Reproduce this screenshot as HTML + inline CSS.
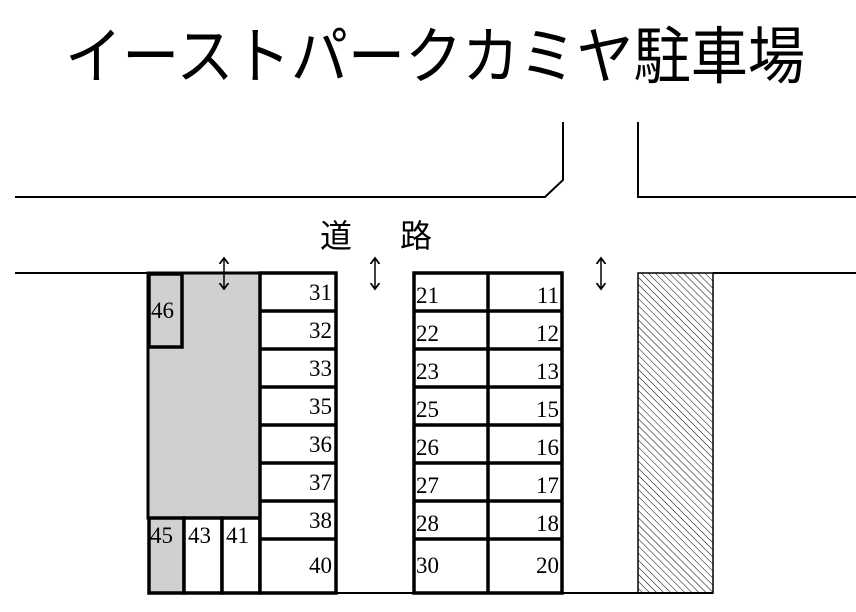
<!DOCTYPE html><html><head><meta charset="utf-8"><style>body{margin:0;background:#fff}</style></head><body>
<svg width="856" height="612" xmlns="http://www.w3.org/2000/svg" style="display:block">
<defs><pattern id="h" width="5" height="5" patternUnits="userSpaceOnUse" patternTransform="rotate(-45)"><line x1="0" y1="0" x2="0" y2="5" stroke="#000" stroke-width="1"/></pattern>
<marker id="a" markerWidth="8" markerHeight="8" refX="4" refY="4" orient="auto-start-reverse"><path d="M0,1 L4,4 L0,7" fill="none" stroke="#000" stroke-width="1.2"/></marker></defs>
<text x="435" y="78" text-anchor="middle" font-family="Liberation Sans,'Noto Sans CJK JP',sans-serif" font-size="62" textLength="740" lengthAdjust="spacingAndGlyphs">イーストパークカミヤ駐車場</text>
<text x="320" y="247" font-family="'Noto Sans CJK JP',sans-serif" font-size="32">道</text>
<text x="400" y="247" font-family="'Noto Sans CJK JP',sans-serif" font-size="32">路</text>
<g fill="none" stroke="#000" stroke-width="2">
<path d="M15,197 H545 L563,180 V122"/><path d="M638,122 V197 H856"/>
<path d="M15,273 H148"/><path d="M713,273 H856"/><path d="M148,593 H713"/>
</g>
<rect x="638" y="273" width="75" height="320" fill="url(#h)" stroke="#000" stroke-width="1.5"/>
<rect x="148" y="273" width="112" height="245" fill="#d0d0d0" stroke="#000" stroke-width="3"/>
<g stroke="#000" stroke-width="3.5">
<rect x="149" y="274" width="33" height="73" fill="#d0d0d0"/>
<rect x="149" y="518" width="35" height="75" fill="#d0d0d0"/>
<rect x="184" y="518" width="38" height="75" fill="#fff"/>
<rect x="222" y="518" width="38" height="75" fill="#fff"/>
<rect x="260" y="273" width="76" height="320" fill="#fff"/>
<rect x="414" y="273" width="148" height="320" fill="#fff"/>
<line x1="488" y1="273" x2="488" y2="593"/>
<path d="M260,311H336M260,349H336M260,387H336M260,425H336M260,463H336M260,501H336M260,539H336"/>
<path d="M414,311H562M414,349H562M414,387H562M414,425H562M414,463H562M414,501H562M414,539H562"/>
</g>
<g stroke="#000" stroke-width="1.5" marker-start="url(#a)" marker-end="url(#a)">
<line x1="224" y1="258" x2="224" y2="289"/><line x1="375" y1="258" x2="375" y2="289"/><line x1="601" y1="258" x2="601" y2="289"/>
</g>
<g font-family="'Liberation Serif',serif" font-size="23" fill="#000">
<text x="151" y="318">46</text><text x="150" y="543">45</text><text x="188" y="543">43</text><text x="226" y="543">41</text>
<g text-anchor="end"><text x="332" y="300">31</text><text x="332" y="338">32</text><text x="332" y="376">33</text><text x="332" y="414">35</text><text x="332" y="452">36</text><text x="332" y="490">37</text><text x="332" y="528">38</text><text x="332" y="573">40</text>
<text x="559" y="303">11</text><text x="559" y="341">12</text><text x="559" y="379">13</text><text x="559" y="417">15</text><text x="559" y="455">16</text><text x="559" y="493">17</text><text x="559" y="531">18</text><text x="559" y="573">20</text></g>
<text x="416" y="303">21</text><text x="416" y="341">22</text><text x="416" y="379">23</text><text x="416" y="417">25</text><text x="416" y="455">26</text><text x="416" y="493">27</text><text x="416" y="531">28</text><text x="416" y="573">30</text>
</g>
</svg></body></html>
